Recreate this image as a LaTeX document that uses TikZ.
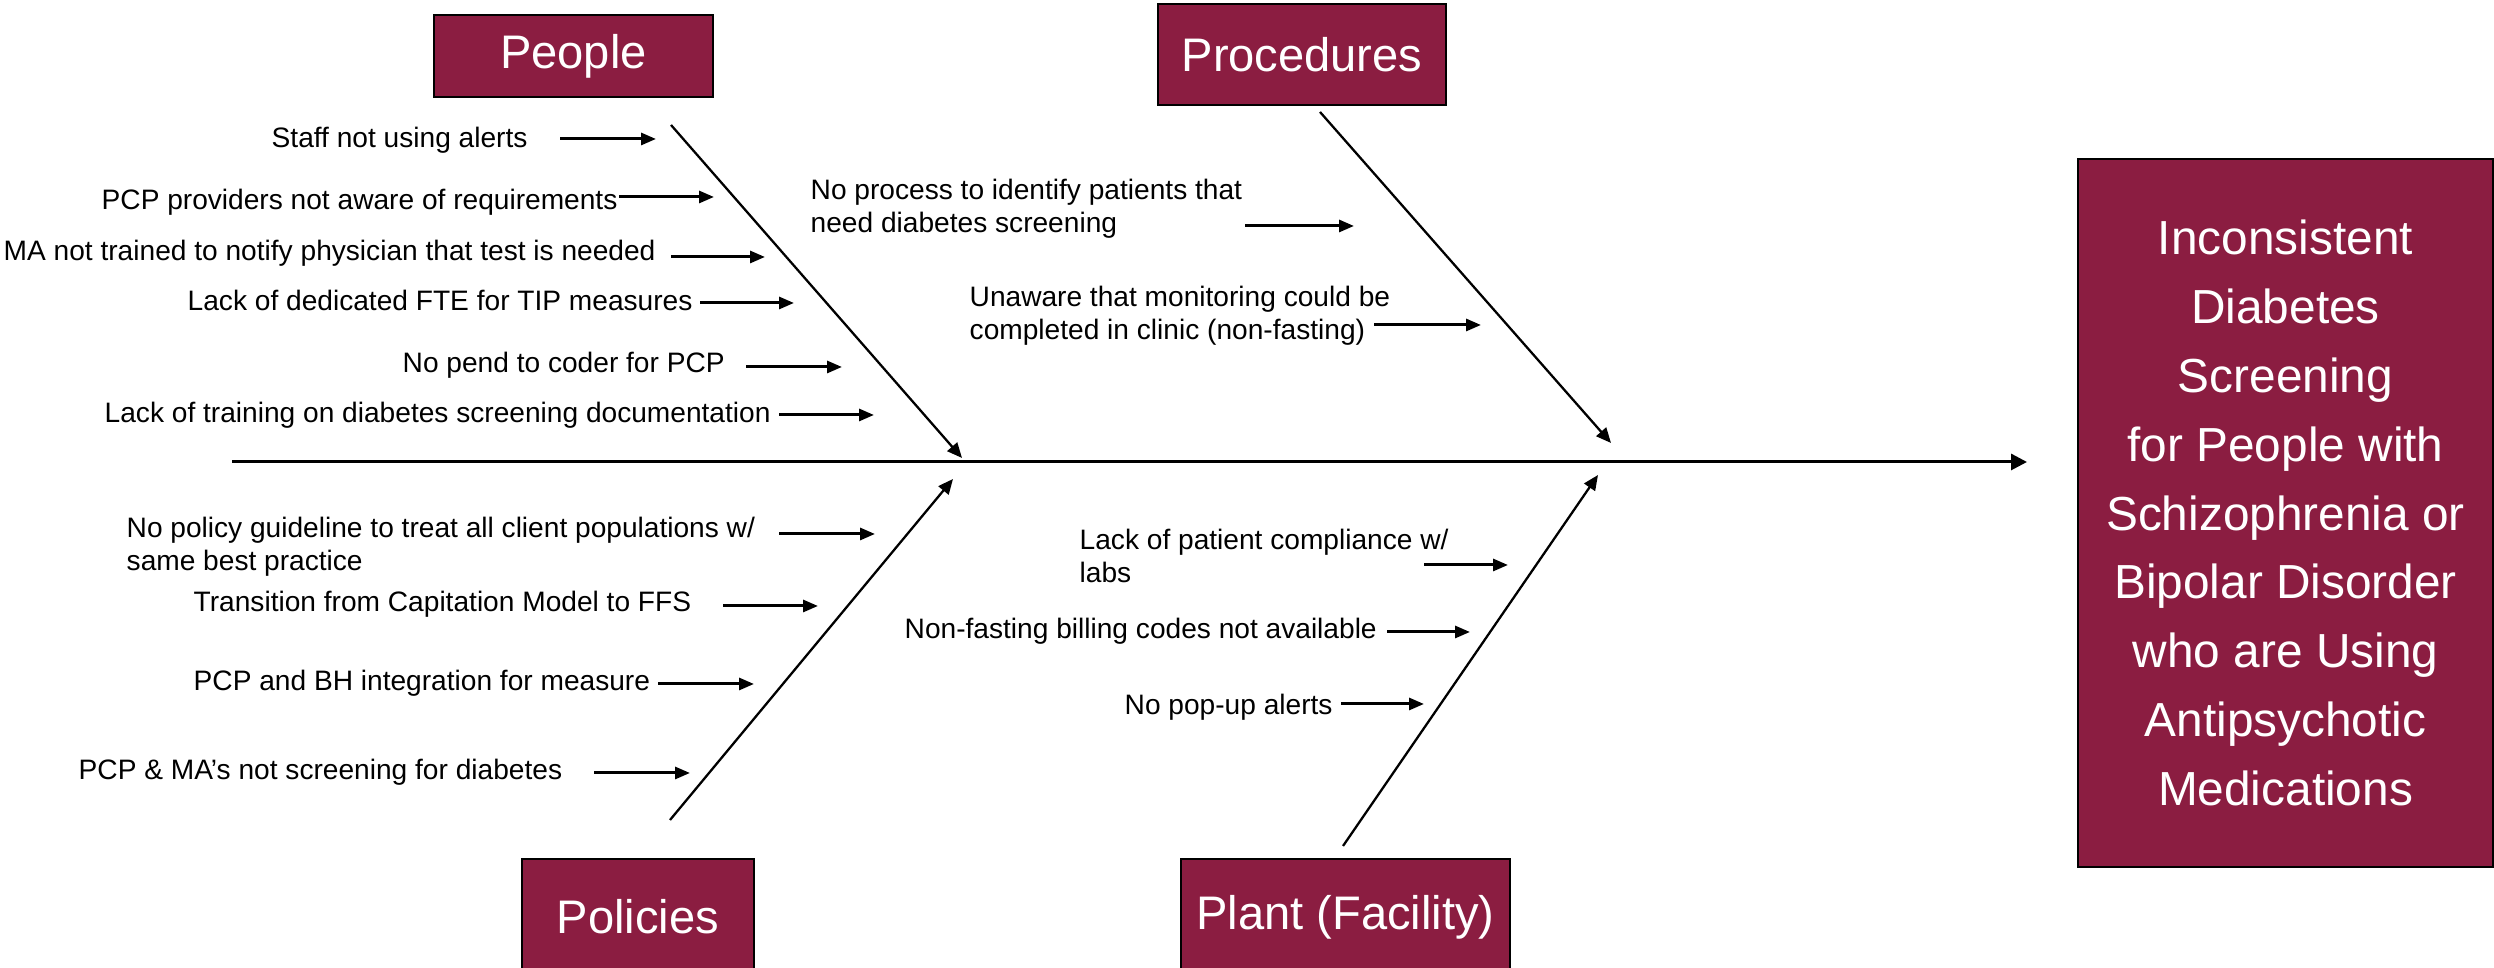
\documentclass[tikz,border=0pt]{standalone}
\usepackage{fontspec}
\setmainfont{Liberation Sans}
\usetikzlibrary{arrows.meta}
\definecolor{wine}{RGB}{139,29,65}
\tikzset{
  spine/.style={line width=0.85pt,-{Triangle[length=0.16cm,width=0.16cm]}},
  bone/.style={line width=0.65pt,-{Triangle[length=0.15cm,width=0.13cm]}},
  cause/.style={line width=0.85pt,-{Triangle[length=0.15cm,width=0.12cm]}},
  catbox/.style={draw=black,line width=0.4pt,fill=wine,text=white,inner sep=0pt,
    font=\fontsize{13.4}{16}\selectfont},
  causetext/.style={anchor=west,inner sep=0pt,align=left,font=\fontsize{8}{9.4}\selectfont},
}

\begin{document}
\begin{tikzpicture}
\useasboundingbox (0,0) rectangle (24.94,9.68);
\clip (0,0) rectangle (24.94,9.68);
\node[catbox,minimum width=2.79cm,minimum height=0.82cm] (people) at (5.735,9.120) {People};
\node[catbox,minimum width=2.88cm,minimum height=1.01cm] (proc) at (13.020,9.135) {Procedures};
\node[catbox,minimum width=2.32cm,minimum height=1.16cm] (policy) at (6.380,0.510) {Policies};
\node[catbox,minimum width=3.29cm,minimum height=1.16cm] (plant) at (13.455,0.510) {Plant (Facility)};
\node[catbox,minimum width=4.15cm,minimum height=7.08cm,align=center,
  font=\fontsize{13.6}{19.6}\selectfont] (effect) at (22.855,4.550)
  {Inconsistent\\Diabetes\\Screening\\for People with\\Schizophrenia or\\Bipolar Disorder\\who are Using\\Antipsychotic\\Medications};

\coordinate (tail) at (2.320,5.060);
\coordinate (head) at (20.270,5.060);
\draw[spine] (tail) -- (head);

\coordinate (peopleTail) at (6.710,8.430);
\coordinate (peopleTip) at (9.620,5.100);
\coordinate (procTail) at (13.200,8.560);
\coordinate (procTip) at (16.110,5.250);
\coordinate (policyTail) at (6.700,1.480);
\coordinate (policyTip) at (9.530,4.890);
\coordinate (plantTail) at (13.430,1.220);
\coordinate (plantTip) at (15.980,4.930);
\draw[bone] (peopleTail) -- (peopleTip);
\draw[bone] (procTail) -- (procTip);
\draw[bone] (policyTail) -- (policyTip);
\draw[bone] (plantTail) -- (plantTip);

\node[causetext] (s1) at (2.710,8.280) {Staff not using alerts};
\node[causetext] (s2) at (1.010,7.660) {PCP providers not aware of requirements};
\node[causetext] (s3) at (0.030,7.150) {MA not trained to notify physician that test is needed};
\node[causetext] (s4) at (1.870,6.680) {Lack of dedicated FTE for TIP measures};
\node[causetext] (s5) at (4.020,6.030) {No pend to coder for PCP};
\node[causetext] (s6) at (1.040,5.530) {Lack of training on diabetes screening documentation};
\node[causetext] (p1) at (1.260,4.215) {No policy guideline to treat all client populations w/\\same best practice};
\node[causetext] (p2) at (1.930,3.640) {Transition from Capitation Model to FFS};
\node[causetext] (p3) at (1.930,2.850) {PCP and BH integration for measure};
\node[causetext] (p4) at (0.780,1.960) {PCP \& MA’s not screening for diabetes};
\node[causetext] (r1) at (8.100,7.595) {No process to identify patients that\\need diabetes screening};
\node[causetext] (r2) at (9.690,6.520) {Unaware that monitoring could be\\completed in clinic (non-fasting)};
\node[causetext] (f1) at (10.790,4.120) {Lack of patient compliance w/\\labs};
\node[causetext] (f2) at (9.040,3.370) {Non-fasting billing codes not available};
\node[causetext] (f3) at (11.240,2.610) {No pop-up alerts};

\coordinate (s1tip) at (6.560,8.290);
\coordinate (s2tip) at (7.140,7.710);
\coordinate (s3tip) at (7.650,7.110);
\coordinate (s4tip) at (7.940,6.650);
\coordinate (s5tip) at (8.420,6.010);
\coordinate (s6tip) at (8.740,5.530);
\coordinate (p1tip) at (8.750,4.340);
\coordinate (p2tip) at (8.180,3.620);
\coordinate (p3tip) at (7.540,2.840);
\coordinate (p4tip) at (6.900,1.950);
\coordinate (r1tip) at (13.540,7.420);
\coordinate (r2tip) at (14.810,6.430);
\coordinate (f1tip) at (15.080,4.030);
\coordinate (f2tip) at (14.700,3.360);
\coordinate (f3tip) at (14.240,2.640);
\draw[cause] ([xshift=-0.96cm]s1tip) -- (s1tip);
\draw[cause] ([xshift=-0.95cm]s2tip) -- (s2tip);
\draw[cause] ([xshift=-0.94cm]s3tip) -- (s3tip);
\draw[cause] ([xshift=-0.94cm]s4tip) -- (s4tip);
\draw[cause] ([xshift=-0.96cm]s5tip) -- (s5tip);
\draw[cause] ([xshift=-0.95cm]s6tip) -- (s6tip);
\draw[cause] ([xshift=-0.96cm]p1tip) -- (p1tip);
\draw[cause] ([xshift=-0.95cm]p2tip) -- (p2tip);
\draw[cause] ([xshift=-0.96cm]p3tip) -- (p3tip);
\draw[cause] ([xshift=-0.96cm]p4tip) -- (p4tip);
\draw[cause] ([xshift=-1.09cm]r1tip) -- (r1tip);
\draw[cause] ([xshift=-1.07cm]r2tip) -- (r2tip);
\draw[cause] ([xshift=-0.84cm]f1tip) -- (f1tip);
\draw[cause] ([xshift=-0.83cm]f2tip) -- (f2tip);
\draw[cause] ([xshift=-0.83cm]f3tip) -- (f3tip);
\end{tikzpicture}
\end{document}
